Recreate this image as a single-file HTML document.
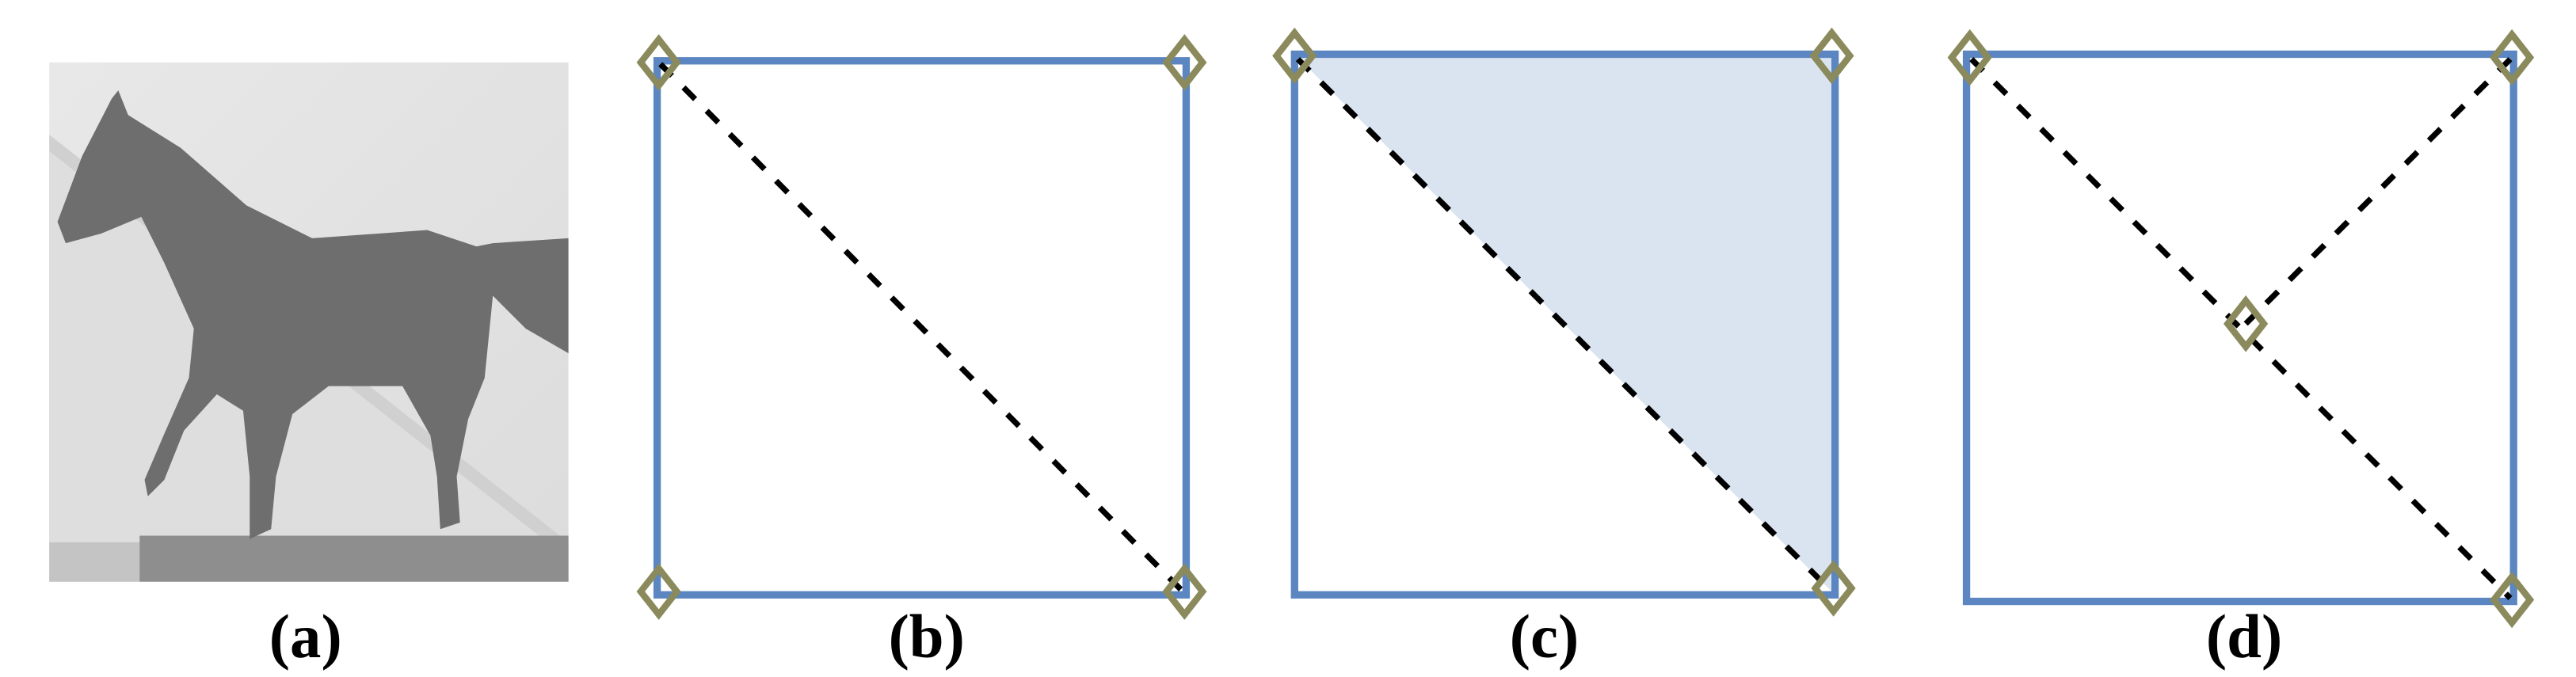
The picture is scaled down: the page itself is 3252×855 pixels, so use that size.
<!DOCTYPE html>
<html><head><meta charset="utf-8"><style>
html,body{margin:0;padding:0;background:#fff;width:3252px;height:855px;overflow:hidden}
svg{display:block}
text{font-family:"Liberation Serif",serif;font-weight:bold}
</style></head><body>
<svg width="3252" height="855" viewBox="0 0 1568 412" preserveAspectRatio="none" xmlns="http://www.w3.org/2000/svg">
<defs>
<linearGradient id="bg" x1="0" y1="0" x2="1" y2="1">
<stop offset="0" stop-color="#e8e8e8"/><stop offset="1" stop-color="#dcdcdc"/></linearGradient>
<g id="dia"><path d="M0,-14 L11,0 L0,14 L-11,0 Z" fill="none" stroke="#8a8a5c" stroke-width="4"/></g>
</defs>
<!-- (a) image -->
<rect x="30" y="38" width="316" height="316" fill="url(#bg)"/>
<polygon points="30,82 346,330 346,354 30,354" fill="#d0d0d0"/>
<polygon points="30,92 346,340 346,354 30,354" fill="#dedede"/>
<rect x="30" y="330" width="316" height="24" fill="#c4c4c4"/>
<rect x="85" y="326" width="261" height="28" fill="#8e8e8e"/>
<path d="M35,135 L50,95 L68,60 L72,55 L78,70 L110,90 L150,125 L190,145 L260,140 L290,150 L300,148 L346,145 L346,215 L320,200 L300,180 L295,230 L285,255 L278,290 L280,318 L268,322 L266,290 L262,265 L245,235 L200,235 L178,252 L168,290 L165,322 L152,328 L152,290 L148,250 L132,240 L112,262 L100,292 L90,302 L88,292 L100,264 L115,230 L118,200 L100,160 L86,132 L62,142 L40,148 Z" fill="#6e6e6e"/>
<!-- (b) -->
<rect x="400" y="37" width="322" height="325" fill="none" stroke="#5b86c1" stroke-width="4.5"/>
<line x1="402" y1="39" x2="720" y2="360" stroke="#000" stroke-width="3.5" stroke-dasharray="10,10"/>
<use href="#dia" x="401" y="38"/><use href="#dia" x="721" y="38"/>
<use href="#dia" x="401" y="360"/><use href="#dia" x="721" y="360"/>
<!-- (c) -->
<polygon points="788,33 1117,33 1117,362" fill="#dae3f0"/>
<rect x="788" y="33" width="329" height="329" fill="none" stroke="#5b86c1" stroke-width="4.5"/>
<line x1="790" y1="36" x2="1115" y2="360" stroke="#000" stroke-width="3.5" stroke-dasharray="10,10"/>
<use href="#dia" x="788" y="34"/><use href="#dia" x="1115" y="34"/>
<use href="#dia" x="1116" y="358"/>
<!-- (d) -->
<rect x="1197" y="33" width="333" height="333" fill="none" stroke="#5b86c1" stroke-width="4.5"/>
<line x1="1200" y1="36" x2="1528" y2="364" stroke="#000" stroke-width="3.5" stroke-dasharray="10,10"/>
<line x1="1528" y1="36" x2="1367" y2="197" stroke="#000" stroke-width="3.5" stroke-dasharray="10,10"/>
<use href="#dia" x="1199" y="35"/><use href="#dia" x="1529" y="35"/>
<use href="#dia" x="1529" y="365"/><use href="#dia" x="1367" y="197"/>
<!-- labels -->
<text x="186" y="400" font-size="38" text-anchor="middle">(a)</text>
<text x="564" y="400" font-size="38" text-anchor="middle">(b)</text>
<text x="940" y="400" font-size="38" text-anchor="middle">(c)</text>
<text x="1366" y="400" font-size="38" text-anchor="middle">(d)</text>
</svg>
</body></html>
